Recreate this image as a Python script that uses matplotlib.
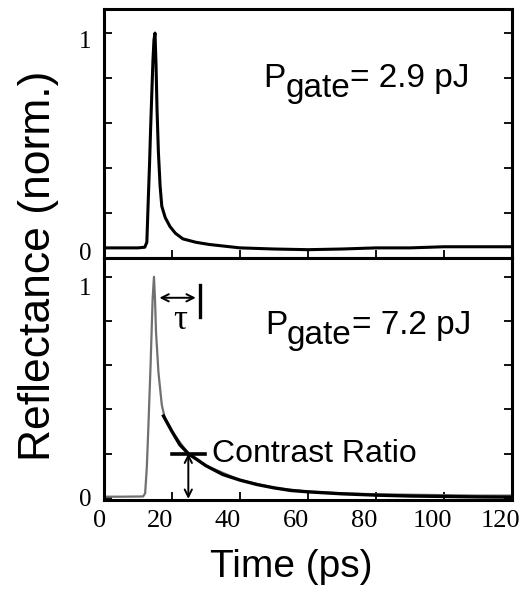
"""
Reflectancia normalizada vs tiempo para dos energías de gate
"""
import numpy as np
import matplotlib
matplotlib.use('Agg')
import matplotlib.pyplot as plt
from matplotlib.transforms import ScaledTranslation

# --- datos ---
# panel superior: P_gate = 2.9 pJ
t_low = [0, 5, 10, 12.0, 12.6, 13.0, 13.4, 13.7, 14.1, 14.4, 14.7, 15.0, 15.3, 15.6, 16.0,
         16.5, 17.0, 18.0, 19.4, 21.0, 23.2, 27.0, 31.0, 40.0, 50.0, 60.0, 70.0, 80.0,
         90.0, 100.0, 110.0, 120.0]
r_low = [0.045, 0.045, 0.045, 0.048, 0.07, 0.25, 0.42, 0.57, 0.75, 0.88, 0.97, 1.0, 0.86,
         0.66, 0.47, 0.32, 0.23, 0.18, 0.14, 0.11, 0.085, 0.07, 0.06, 0.045, 0.04, 0.037,
         0.04, 0.045, 0.045, 0.05, 0.05, 0.05]

# panel inferior: P_gate = 7.2 pJ (medida, gris)
t_high = [0, 5, 11.5, 12.1, 12.6, 13.0, 13.7, 14.3, 14.7, 15.0, 15.3, 16.0, 17.0, 17.9,
          20.0, 25.0, 30.0, 40.0, 50.0, 60.0, 70.0, 80.0, 90.0, 100.0, 110.0, 120.0]
r_high = [0.005, 0.005, 0.006, 0.02, 0.14, 0.30, 0.60, 0.90, 1.0, 0.9, 0.75, 0.57, 0.42,
          0.36, 0.30, 0.195, 0.145, 0.08, 0.045, 0.028, 0.02, 0.016, 0.014, 0.012, 0.01, 0.01]

# ajuste de la cola (negro)
t_fit = [17.5, 20.0, 22.3, 24.8, 30.0, 35.0, 40.0, 45.0, 50.0, 55.0, 60.0, 70.0, 80.0,
         90.0, 100.0, 110.0, 120.0]
r_fit = [0.37, 0.30, 0.24, 0.20, 0.145, 0.105, 0.08, 0.06, 0.045, 0.033, 0.027, 0.018,
         0.012, 0.008, 0.006, 0.004, 0.003]

x_ticks = [0, 20, 40, 60, 80, 100, 120]
y_ticks = [0, 0.2, 0.4, 0.6, 0.8, 1.0]
y_ticklabels = ['0', '', '', '', '', '1']
labels_gate = ['2.9 pJ', '7.2 pJ']

SANS = ['Liberation Sans', 'DejaVu Sans']
SERIF = ['Liberation Serif', 'DejaVu Serif']

W, H = 521, 597
fig = plt.figure(figsize=(W / 100, H / 100), dpi=100)
ax1 = fig.add_axes([104 / W, 1 - 258 / H, 408 / W, 249 / H])
ax2 = fig.add_axes([104 / W, 1 - 500 / H, 408 / W, 242 / H])


def shift(label, dx_px, dy_px):
    """desplaza una etiqueta en píxeles"""
    label.set_transform(label.get_transform() +
                        ScaledTranslation(dx_px / 100, dy_px / 100, fig.dpi_scale_trans))


def style_axis(ax, ylim, show_xlabels):
    ax.set_xlim(0, 120)
    ax.set_ylim(*ylim)
    ax.set_xticks(x_ticks)
    ax.set_yticks(y_ticks)
    ax.set_yticklabels(y_ticklabels, family=SERIF, fontsize=18)
    if show_xlabels:
        ax.set_xticklabels([str(v) for v in x_ticks], family=SERIF, fontsize=19)
    else:
        ax.set_xticklabels([])
    ax.tick_params(axis='y', direction='in', length=6, width=1.3, left=True, right=True, pad=9)
    ax.tick_params(axis='x', direction='in', length=6, width=1.3, bottom=True, top=False, pad=7)
    for s in ax.spines.values():
        s.set_linewidth(2.2)


def gate_label(ax, x, y, value):
    """P con subíndice 'gate' a tamaño completo"""
    p = ax.text(x, y, 'P', family=SANS, fontsize=24, va='baseline', ha='left')
    g = ax.annotate('gate', xy=(1, 0), xycoords=p, xytext=(0, -7), textcoords='offset points',
                    family=SANS, fontsize=24, va='bottom', ha='left')
    ax.annotate('= ' + value, xy=(1, 0), xycoords=(g, p), family=SANS, fontsize=24,
                va='bottom', ha='left')


# panel superior
ax1.plot(t_low, r_low, color='black', lw=2.2, solid_joinstyle='round')
style_axis(ax1, (0, 1.107), False)
gate_label(ax1, 46.8, 0.76, labels_gate[0])

# panel inferior
ax2.plot(t_high, r_high, color='#707070', lw=1.6, solid_joinstyle='round')
ax2.plot(t_fit, r_fit, color='black', lw=2.4)
style_axis(ax2, (-0.01, 1.085), True)
gate_label(ax2, 47.3, 0.74, labels_gate[1])

# etiquetas de ticks como en el original (algo desplazadas)
yl1 = ax1.get_yticklabels()
shift(yl1[0], 0, 6)
shift(yl1[-1], 0, -6)
yl2 = ax2.get_yticklabels()
shift(yl2[-1], 0, -10)
for lab in ax2.get_xticklabels():
    shift(lab, -12, 0)
shift(ax2.get_xticklabels()[0], 8, 0)

# tau
ax2.annotate('', xy=(16.3, 0.905), xytext=(27.0, 0.905),
             arrowprops=dict(arrowstyle='<->', lw=1.4, color='black',
                             shrinkA=0, shrinkB=0, mutation_scale=13))
ax2.plot([28.2, 28.2], [0.82, 0.965], color='black', lw=2.4)
ax2.text(22.3, 0.80, 'τ', family=SERIF, fontsize=25, ha='center', va='center')

# contrast ratio
ax2.plot([20.0, 29.7], [0.2, 0.2], color='black', lw=2.6)
ax2.annotate('', xy=(24.8, 0.2), xytext=(24.8, -0.005),
             arrowprops=dict(arrowstyle='<->', lw=1.4, color='black',
                             shrinkA=0, shrinkB=0, mutation_scale=13))
ax2.text(31.8, 0.2, 'Contrast Ratio', family=SANS, fontsize=23, ha='left', va='center')

# etiquetas de ejes
fig.text(50 / W, 1 - 266 / H, 'Reflectance (norm.)', family=SANS, fontsize=32,
         rotation=90, rotation_mode='anchor', ha='center', va='baseline')
fig.text(291 / W, 1 - 577 / H, 'Time (ps)', family=SANS,
         fontsize=28, ha='center', va='baseline')

fig.savefig('out.png', dpi=100)
